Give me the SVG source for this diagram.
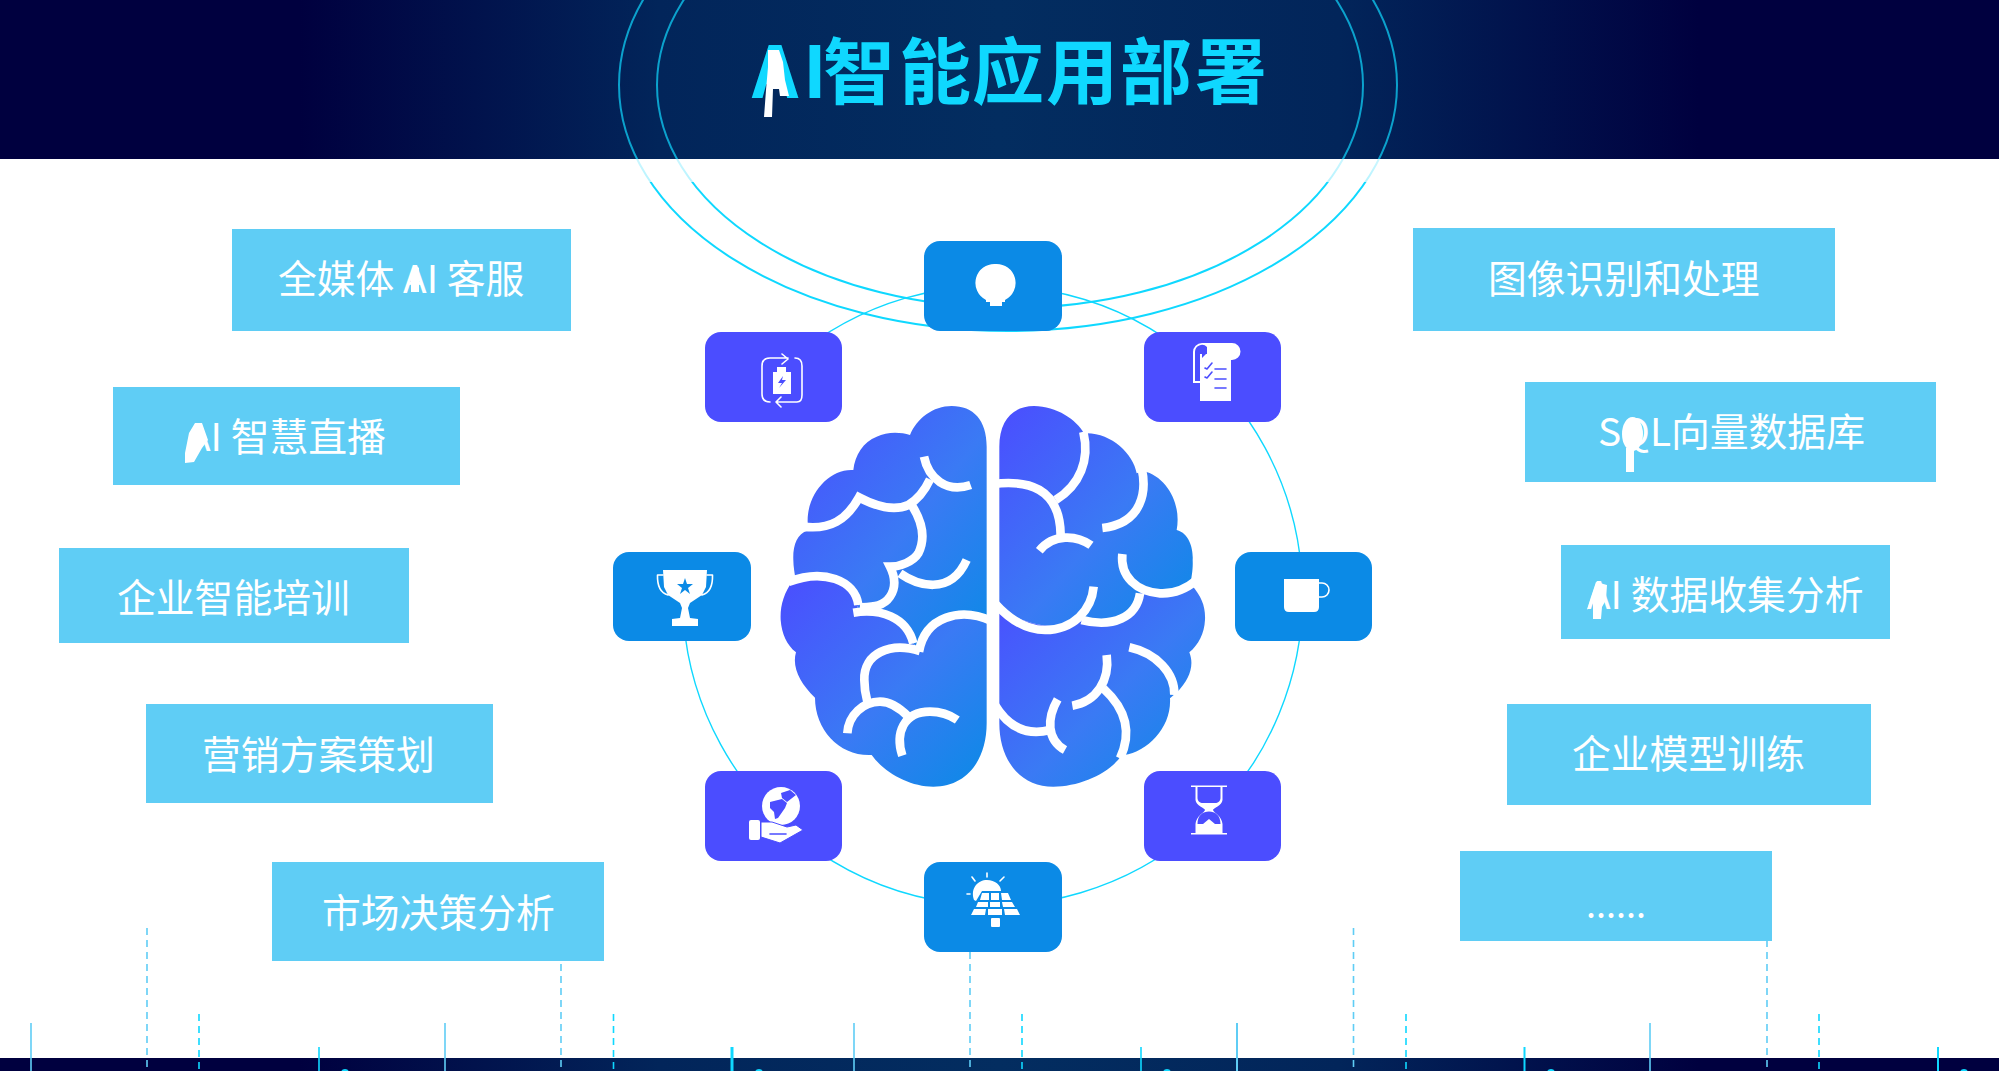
<svg xmlns="http://www.w3.org/2000/svg" width="1999" height="1071" viewBox="0 0 1999 1071">
<style>
.lb{fill:#5fcdf5}
.lt{font-family:"Noto Sans CJK SC","Noto Sans",sans-serif;font-size:38.8px;fill:#fff}
.w{fill:#fff}
.ib{fill:#0b8ae6}
.ip{fill:#4b4dff}
.sw{fill:none;stroke:#fff;stroke-width:1.6;stroke-linecap:round;stroke-linejoin:round}
.sp{fill:none;stroke:#4b4dff;stroke-width:1.6;stroke-linecap:round;stroke-linejoin:round}
.s1{stroke:#5fcdf5;stroke-width:1.6}
.s2{stroke:#0fd8ff;stroke-width:1.6}
.s3{stroke:#0fd8ff;stroke-width:3}
.d1{stroke:#5fcdf5;stroke-width:1.6;stroke-dasharray:7 5}
.d2{stroke:#0fd8ff;stroke-width:1.6;stroke-dasharray:7 5}
.bs{fill:none;stroke:#fff;stroke-width:26}
</style>
<defs>
<linearGradient id="bar" x1="0" x2="1" y1="0" y2="0">
<stop offset="0" stop-color="#00003f"/><stop offset=".15" stop-color="#00003f"/><stop offset=".33" stop-color="#02255a"/><stop offset=".5" stop-color="#032d60"/><stop offset=".67" stop-color="#02255a"/><stop offset=".85" stop-color="#00003f"/><stop offset="1" stop-color="#00003f"/>
</linearGradient>
<linearGradient id="ring" gradientUnits="userSpaceOnUse" x1="0" y1="0" x2="0" y2="340">
<stop offset="0" stop-color="#0fd8ff" stop-opacity=".7"/><stop offset=".4676" stop-color="#0fd8ff" stop-opacity=".7"/><stop offset=".4676" stop-color="#0fd8ff" stop-opacity=".22"/><stop offset=".5353" stop-color="#0fd8ff" stop-opacity=".3"/><stop offset=".5353" stop-color="#0fd8ff"/><stop offset="1" stop-color="#0fd8ff"/>
</linearGradient>
<linearGradient id="br" x1="0" y1="0" x2="1" y2="1">
<stop offset="0" stop-color="#4b4dff"/><stop offset=".55" stop-color="#3a7af4"/><stop offset="1" stop-color="#0b8ae6"/>
</linearGradient>
</defs>
<rect width="1999" height="1071" fill="#fff"/>
<g id="header">
<rect width="1999" height="159" fill="url(#bar)"/>
<ellipse cx="1008" cy="85" rx="389" ry="246" fill="none" stroke="url(#ring)" stroke-width="2"/>
<ellipse cx="1010" cy="85" rx="353" ry="223" fill="none" stroke="url(#ring)" stroke-width="2"/>
<text x="752 803 823 899 972 1046 1120 1195" y="98" font-family="'Noto Sans CJK SC',sans-serif" font-weight="700" font-size="72" fill="#0fd8ff">AI智能应用部署</text>
<path class="w" d="M768 50H779L783 62 785 80 789 96H780L779 89H773L772 117H764L766 90 768 67Z"/>
</g>
<g id="footer"><rect y="1058" width="1999" height="13" fill="url(#bar)"/>
<circle cx="345" cy="1073" r="4" fill="#0fd8ff"/><circle cx="759" cy="1073" r="4" fill="#0fd8ff"/><circle cx="1167" cy="1073" r="4" fill="#0fd8ff"/><circle cx="1551" cy="1073" r="4" fill="#0fd8ff"/><circle cx="1964" cy="1073" r="4" fill="#0fd8ff"/>
</g>
<g id="connectors" fill="none">
<path d="M791 360A310 310 0 1 1 683.5 620" stroke="#0fd8ff" stroke-width="1.4"/>
<path class="s1" d="M31 1023V1071M445 1023V1071M854 1023V1071M1650 1023V1071"/>
<path class="s1" style="stroke-width:2" d="M1237 1023V1071"/>
<path class="s2" d="M319 1047V1071M1141 1047V1071"/>
<path class="s2" style="stroke-width:2" d="M1524.500 1047V1071M1938 1047V1071"/>
<path class="s3" d="M732 1047V1071"/>
<path class="d1" d="M147 928V1071M561 928V1071M970 928V1071M1353.500 928V1071M1767 928V1071"/>
<path class="d2" d="M199 1014V1071M613.500 1014V1071M1022 1014V1071M1406 1014V1071M1819 1014V1071"/>
</g>
<g id="label-1"><rect class="lb" x="232" y="229" width="339" height="102"/><text class="lt" x="278" y="292.500">全媒体 AI 客服</text><path class="w" d="M415 265L419 268V292H411V273Z"/></g>
<g id="label-2"><rect class="lb" x="113" y="387" width="347" height="98"/><text class="lt" x="187" y="450.500">AI 智慧直播</text><path class="w" d="M195 423H202L208 440 202 448 194 462 185 463V453L189 433Z"/></g>
<g id="label-3"><rect class="lb" x="59" y="548" width="350" height="95"/><text class="lt" x="117" y="611.500">企业智能培训</text></g>
<g id="label-4"><rect class="lb" x="146" y="704" width="347" height="99"/><text class="lt" x="202" y="768.500">营销方案策划</text></g>
<g id="label-5"><rect class="lb" x="272" y="862" width="332" height="99"/><text class="lt" x="322" y="926.500">市场决策分析</text></g>
<g id="label-6"><rect class="lb" x="1413" y="228" width="422" height="103"/><text class="lt" x="1488" y="292.500">图像识别和处理</text></g>
<g id="label-7"><rect class="lb" x="1525" y="382" width="411" height="100"/><text class="lt" x="1598" y="445.500">SQL向量数据库</text><ellipse class="w" cx="1632.500" cy="434" rx="10.500" ry="17"/><rect class="w" x="1626" y="448" width="8" height="24"/></g>
<g id="label-8"><rect class="lb" x="1561" y="545" width="329" height="94"/><text class="lt" x="1587" y="608.500">AI 数据收集分析</text><path class="w" d="M1596 582L1607 585 1606 600 1602 607 1601 619H1593V603L1587 610 1591 597Z"/></g>
<g id="label-9"><rect class="lb" x="1507" y="704" width="364" height="101"/><text class="lt" x="1572" y="767.500">企业模型训练</text></g>
<g id="label-10"><rect class="lb" x="1460" y="851" width="312" height="90"/><text class="lt" style="font-size:36px" x="1586" y="917.500">......</text></g>
<g id="brain" transform="translate(760 390) scale(.33333)">
<path fill="url(#br)" d="M680 687V170C680 90 640 48 575 48 520 48 470 85 450 135 420 125 380 125 350 140 310 155 285 195 280 240 210 235 140 310 143 397V422C110 430 98 470 100 510 100 530 104 550 107 570 190 535 285 570 295 645L285 668C360 655 440 680 460 760L477 775C495 680 600 650 680 687Z"/>
<path fill="url(#br)" d="M680 687V1000C680 1110 620 1190 520 1190 450 1190 375 1150 335 1095 240 1100 165 1020 165 923 120 880 95 830 108 787 80 765 65 730 62 690 60 650 70 610 100 570 190 535 285 570 295 645L285 668C360 655 440 680 460 760L477 775C495 680 600 650 680 687Z"/>
<path fill="url(#br)" d="M718 650V170C718 90 760 48 822 48 890 48 950 90 972 130 1050 125 1120 190 1130 250L1150 243C1220 260 1265 340 1250 420 1290 430 1300 480 1298 510 1300 550 1290 570 1295 585 1275 600 1240 612 1200 610L1140 610C1130 680 1060 715 965 690 940 720 800 720 718 650Z"/>
<path fill="url(#br)" d="M718 650C800 720 940 720 965 690 1060 715 1130 680 1140 610L1200 610C1240 612 1275 600 1295 585 1325 620 1337 650 1335 690 1333 730 1315 765 1288 787 1305 830 1285 870 1255 903L1230 925C1235 1010 1165 1085 1092 1095H1085C1050 1150 960 1190 880 1190 780 1190 718 1110 718 1000Z"/>
<g class="bs">
<path d="M85 576C190 535 285 570 295 645"/>
<path d="M280 668C360 655 440 680 460 760"/>
<path d="M695 693C600 650 495 680 477 785"/>
<path d="M480 783C390 755 310 790 313 870 313 900 318 920 322 935"/>
<path d="M262 1030C265 975 310 935 360 935 395 935 425 960 445 980"/>
<path d="M427 1097C405 1030 430 965 510 965 540 965 570 975 592 990"/>
<path d="M130 410C210 420 260 390 297 322 350 350 400 365 445 345 470 330 495 300 510 268"/>
<path d="M492 200C505 265 560 310 632 285"/>
<path d="M455 345C490 400 495 450 475 490 460 515 420 530 390 530 405 560 410 590 390 620 370 650 340 650 300 652"/>
<path d="M420 550C470 585 570 620 620 510"/>
<path d="M970 125C990 210 960 285 887 330"/>
<path d="M700 282C800 270 900 290 902 435"/>
<path d="M838 482C880 430 950 435 993 466"/>
<path d="M1145 235C1160 300 1150 400 1027 414"/>
<path d="M1087 492C1080 560 1130 605 1200 610 1240 612 1275 600 1310 570"/>
<path d="M1140 610C1130 680 1060 715 965 690"/>
<path d="M1001 590C995 660 940 720 855 720 800 720 750 690 705 640"/>
<path d="M1108 772C1190 790 1245 850 1243 915"/>
<path d="M1040 795C1050 870 1010 935 937 947"/>
<path d="M1030 895C1090 950 1120 1020 1080 1105"/>
<path d="M893 928C860 985 860 1050 915 1080"/>
<path d="M705 945C750 1020 810 1035 870 1020"/>
</g>
</g>
<g id="icon-bulb"><rect class="ib" x="924" y="241" width="138" height="90" rx="16"/><path class="w" d="M995.500 264A19 19 0 0 1 1005 300V302H1002V306H990V302H986V300A19 19 0 0 1 995.500 264Z"/></g>
<g id="icon-battery"><rect class="ip" x="705" y="332" width="137" height="90" rx="16"/>
<path class="sw" d="M788 358H770Q762 358 762 366V394Q762 402 770 402M782 354L788 359 782 364M776 402H797Q802 402 802 395V366Q802 358 795 358M781 397L776 402 781 407"/>
<path class="w" d="M777 367H786V372H791V394H773V372H777Z"/><path class="ip" d="M783 376L778 383H782L779 388 786 380H782Z"/></g>
<g id="icon-list"><rect class="ip" x="1144" y="332" width="137" height="90" rx="16"/>
<path class="w" d="M1193 383V352A9 9 0 0 1 1202 343H1232A8.500 8.500 0 0 1 1232 360H1231V401H1200V383Z"/>
<path class="ip" d="M1195 381V352A7 7 0 0 1 1207 347V354H1200V381ZM1202 354H1206L1202 358Z"/>
<path class="sp" d="M1205 368L1207 369 1212 363M1205 377L1207 378 1212 372M1215 369H1226M1215 379H1226M1215 388H1226"/></g>
<g id="icon-trophy"><rect class="ib" x="613" y="552" width="138" height="89" rx="16"/>
<path class="w" d="M663 570H707L706 587 702 595 690 603 688 608 690 618 698 619V626H672V619L680 618 682 608 680 603 668 595 664 587Z"/>
<path class="sw" d="M663 575H657.500Q657 592 668 595M707 575H712.500Q713 592 702 595"/>
<path class="ib" d="M685 578L687 584H693L688 588 690 594 685 590 680 594 682 588 677 584H683Z"/></g>
<g id="icon-cup"><rect class="ib" x="1235" y="552" width="137" height="89" rx="16"/>
<path class="w" d="M1284 579H1319V607Q1319 612 1314 612H1289Q1284 612 1284 607Z"/><path class="sw" d="M1319 583H1322A7 7 0 0 1 1322 597H1319"/></g>
<g id="icon-globe"><rect class="ip" x="705" y="771" width="137" height="90" rx="16"/>
<ellipse class="w" cx="781" cy="806" rx="19" ry="19"/>
<path class="ip" d="M770 802L782 799 787 803 785 808 778 818 775 819 774 812 770 808ZM781 793L790 790 796 795 787 802 782 798Z"/>
<rect class="w" x="749" y="820" width="11" height="20" rx="2"/>
<path class="w" stroke="#4b4dff" stroke-width="1" d="M761 822H772L787 827 796 825 803 830 780 843 761 837Z"/>
<path class="sp" d="M770 834H786"/></g>
<g id="icon-solar"><rect class="ib" x="924" y="862" width="138" height="90" rx="16"/>
<path class="w" d="M974 900C970 888 978 880 987 880 995 880 1001 885 1001 891H982L976 901Z"/>
<path class="w" d="M982 893H989V900H980ZM991 893H999V900H991ZM1001 893H1008L1011 900H1002ZM978 902H988V907H976ZM990 902H1000V907H990ZM1002 902H1012L1015 907H1003ZM974 909H986L985 915H971ZM988 909H1002V915H988ZM1004 909H1017L1020 915H1005Z"/>
<rect class="w" x="991" y="918" width="9" height="9" rx="1"/>
<path class="sw" d="M987 873V877M972 877L975 881M1004 877L1000 881M967 894H970"/></g>
<g id="icon-hourglass"><rect class="ip" x="1144" y="771" width="137" height="90" rx="16"/>
<path class="w" d="M1191 785.500H1227V787H1222.500V800C1222 806 1213 808 1213 810 1213 812 1222 816 1222.500 824V833H1227V834.500H1191V833H1195.500V824C1196 816 1205 812 1205 810 1205 808 1196 806 1195.500 800V787H1191Z"/>
<path class="ip" d="M1197.500 787H1220.500V798C1220.500 801 1218 803 1215 803H1203C1200 803 1197.500 801 1197.500 798ZM1197.500 824C1197.500 815 1203 811.500 1209 811.500 1215 811.500 1220.500 815 1220.500 824H1215L1209 819 1203 824Z"/></g>
</svg>
